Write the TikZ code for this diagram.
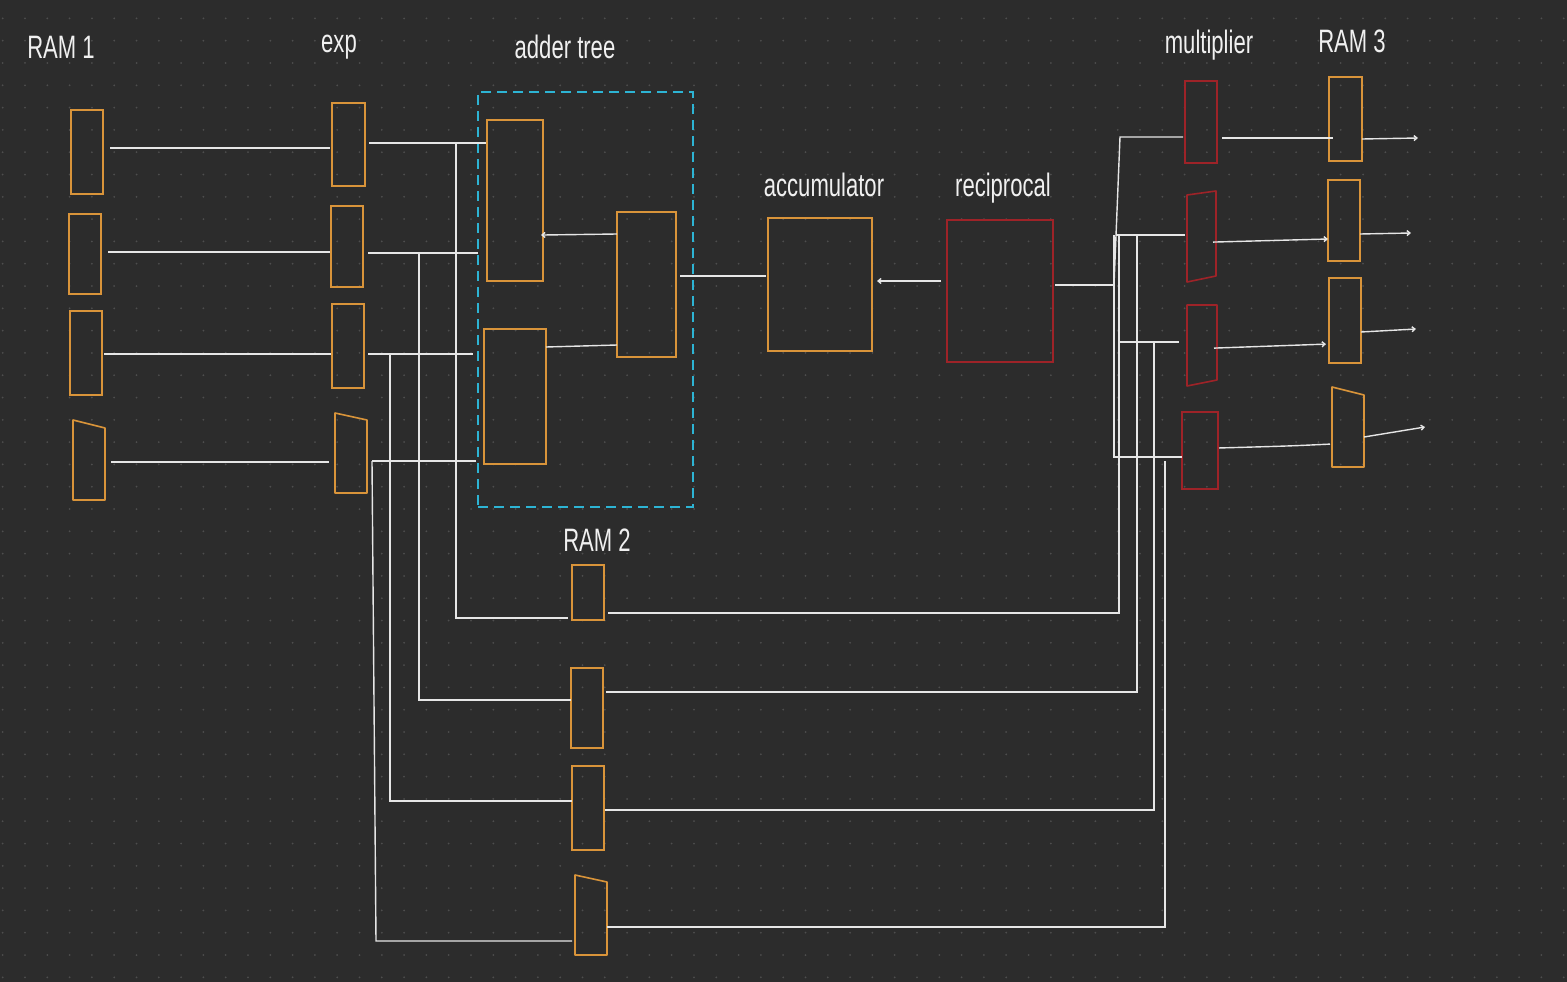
\documentclass[tikz,border=0pt]{standalone}
\usepackage{fontspec}
\setmainfont{Liberation Sans}
\usetikzlibrary{arrows.meta}
\definecolor{bg}{HTML}{2C2C2C}
\definecolor{dotc}{HTML}{4E4E4E}
\definecolor{orng}{HTML}{D9943A}
\definecolor{redc}{HTML}{9E2328}
\definecolor{cyanc}{HTML}{2DB4D4}
\definecolor{wirec}{HTML}{E6E6E6}
\newcommand{\hw}[1]{\scalebox{0.92}[1.35]{#1}}
\begin{document}
\begin{tikzpicture}[x=1pt,y=-1pt,
 obox/.style={draw=orng, line width=1.6pt, inner sep=0pt, outer sep=0pt, anchor=north west},
 rbox/.style={obox, draw=redc},
 ghost/.style={inner sep=0pt, outer sep=0pt, anchor=north west},
 opath/.style={draw=orng, line width=1.6pt, line join=round},
 rpath/.style={draw=redc, line width=1.6pt, line join=round},
 wire/.style={draw=wirec, line width=1.4pt},
 tip/.style={-{Straight Barb[length=3pt,width=5pt]}},
 lbl/.style={text=white!94!black, font=\fontsize{24}{28}\selectfont, inner sep=0pt},
 grp/.style={draw=cyanc, line width=2.4pt, dash pattern=on 10pt off 6pt, inner sep=0pt, outer sep=0pt, anchor=north west}]
% background and dot grid
\fill[bg] (0,0) rectangle (1567,982);
\useasboundingbox (0,0) rectangle (1567,982);
\foreach \i in {0,...,70}{\foreach \j in {0,...,43}{\fill[dotc] (2.7+22.3*\i, 18.4+22.3*\j) circle (1pt);}}

% labels
\node[lbl] (tR1) at (61,47) {\hw{RAM 1}};
\node[lbl] (tEx) at (339,47) {\hw{exp}};
\node[lbl] (tAd) at (565,47) {\hw{adder tree}};
\node[lbl] (tAc) at (824,185) {\hw{accumulator}};
\node[lbl] (tRe) at (1003,188) {\hw{reciprocal}};
\node[lbl] (tMu) at (1209,45) {\hw{multiplier}};
\node[lbl] (tR3) at (1352,41) {\hw{RAM 3}};
\node[lbl] (tR2) at (597,540) {\hw{RAM 2}};

% RAM 1
\node[obox, minimum width=32pt, minimum height=84pt] (R1a) at (71,110) {};
\node[obox, minimum width=32pt, minimum height=80pt] (R1b) at (69,214) {};
\node[obox, minimum width=32pt, minimum height=84pt] (R1c) at (70,311) {};
\node[ghost, minimum width=32pt, minimum height=80pt] (R1d) at (73,420) {};
\draw[opath] (R1d.south west) -- (R1d.north west) -- ([yshift=-8pt]R1d.north east) -- (R1d.south east) -- cycle;

% exp
\node[obox, minimum width=33pt, minimum height=83pt] (E1) at (332,103) {};
\node[obox, minimum width=32pt, minimum height=81pt] (E2) at (331,206) {};
\node[obox, minimum width=32pt, minimum height=84pt] (E3) at (332,304) {};
\node[ghost, minimum width=32pt, minimum height=80pt] (E4) at (335,413) {};
\draw[opath] (E4.south west) -- (E4.north west) -- ([yshift=-7pt]E4.north east) -- (E4.south east) -- cycle;

% adder tree
\node[grp, minimum width=215pt, minimum height=415pt] (grp) at (478,92) {};
\node[obox, minimum width=56pt, minimum height=161pt] (A1) at (487,120) {};
\node[obox, minimum width=62pt, minimum height=135pt] (A2) at (484,329) {};
\node[obox, minimum width=59pt, minimum height=145pt] (A3) at (617,212) {};

% accumulator, reciprocal
\node[obox, minimum width=104pt, minimum height=133pt] (ACC) at (768,218) {};
\node[rbox, minimum width=106pt, minimum height=142pt] (REC) at (947,220) {};

% RAM 2
\node[obox, minimum width=32pt, minimum height=55pt] (R2a) at (572,565) {};
\node[obox, minimum width=32pt, minimum height=80pt] (R2b) at (571,668) {};
\node[obox, minimum width=32pt, minimum height=84pt] (R2c) at (572,766) {};
\node[ghost, minimum width=32pt, minimum height=80pt] (R2d) at (575,875) {};
\draw[opath] (R2d.south west) -- (R2d.north west) -- ([yshift=-7pt]R2d.north east) -- (R2d.south east) -- cycle;

% multipliers
\node[rbox, minimum width=32pt, minimum height=82pt] (M1) at (1185,81) {};
\node[ghost, minimum width=29pt, minimum height=91pt] (M2) at (1187,191) {};
\draw[rpath] ([yshift=-4pt]M2.north west) -- (M2.north east) -- ([yshift=6pt]M2.south east) -- (M2.south west) -- cycle;
\node[ghost, minimum width=30pt, minimum height=81pt] (M3) at (1187,305) {};
\draw[rpath] (M3.north west) -- (M3.north east) -- ([yshift=6pt]M3.south east) -- (M3.south west) -- cycle;
\node[rbox, minimum width=36pt, minimum height=77pt] (M4) at (1182,412) {};

% RAM 3
\node[obox, minimum width=33pt, minimum height=84pt] (R3a) at (1329,77) {};
\node[obox, minimum width=32pt, minimum height=81pt] (R3b) at (1328,180) {};
\node[obox, minimum width=32pt, minimum height=85pt] (R3c) at (1329,278) {};
\node[ghost, minimum width=32pt, minimum height=80pt] (R3d) at (1332,387) {};
\draw[opath] (R3d.south west) -- (R3d.north west) -- ([yshift=-8pt]R3d.north east) -- (R3d.south east) -- cycle;

% ---- wires: RAM 1 -> exp
\draw[wire, shorten <=7pt, shorten >=2pt] (R1a.east |- 0,148) -- (E1.west |- 0,148);
\draw[wire, shorten <=7pt, shorten >=1pt] (R1b.east |- 0,252) -- (E2.west |- 0,252);
\draw[wire, shorten <=2pt, shorten >=1pt] (R1c.east |- 0,354) -- (E3.west |- 0,354);
\draw[wire, shorten <=6pt, shorten >=6pt] (R1d.east |- 0,462) -- (E4.west |- 0,462);

% exp -> adder tree and RAM 2
\draw[wire, shorten <=4pt, shorten >=1pt] (E1.east |- 0,143) -- (A1.west |- 0,143);
\coordinate (j1) at (456,143);
\draw[wire, shorten >=4pt] (j1) |- (R2a.west |- 0,618);
\draw[wire, shorten <=5pt] (E2.east |- 0,253) -- (grp.west |- 0,253);
\coordinate (j2) at (419,253);
\draw[wire] (j2) |- (R2b.west |- 0,700);
\draw[wire, shorten <=4pt, shorten >=5pt] (E3.east |- 0,354) -- (grp.west |- 0,354);
\coordinate (j3) at (390,354);
\draw[wire] (j3) |- (R2c.west |- 0,801);
\coordinate (j4) at (372,461);
\coordinate (j4b) at (376,941);
\draw[wire, shorten >=2pt] (j4) -- (grp.west |- 0,461);
\draw[wire, shorten >=3pt] (j4) -- (j4b) -- (R2d.west |- 0,941);

% inside adder tree
\draw[wire, tip, shorten >=-2pt] (A3.west |- 0,234) -- (A1.east |- 0,235);
\draw[wire] (A2.east |- 0,347) -- (A3.west |- 0,345);
\draw[wire, shorten <=4pt, shorten >=2pt] (A3.east |- 0,276) -- (ACC.west |- 0,276);

% reciprocal
\draw[wire, tip, shorten <=6pt, shorten >=5pt] (REC.west |- 0,281) -- (ACC.east |- 0,281);
\coordinate (jr) at (1114,285);
\draw[wire, shorten <=2pt] (REC.east |- 0,285) -- (jr);
\draw[wire, shorten >=2pt] (jr) -- (1120,137) -- (M1.west |- 0,137);
\draw[wire] (1114,235) -- (1114,457) -- (M4.west |- 0,457);
\draw[wire, shorten >=2pt] (1116,235) -- (M2.west |- 0,235);
\draw[wire, shorten >=8pt] (1120,342) -- (M3.west |- 0,342);

% RAM 2 -> multipliers
\draw[wire, shorten <=4pt] (R2a.east |- 0,613) -| (1119,235);
\draw[wire, shorten <=3pt] (R2b.east |- 0,692) -| (1137,236);
\draw[wire, shorten <=1pt] (R2c.east |- 0,810) -| (1154,342);
\draw[wire] (R2d.east |- 0,927) -| (1165,461);

% multipliers -> RAM 3
\draw[wire, shorten <=5pt, shorten >=-4pt] (M1.east |- 0,138) -- (R3a.west |- 0,138);
\draw[wire, tip, shorten <=-3pt] (M2.east |- 0,242) -- (R3b.west |- 0,239);
\draw[wire, tip, shorten <=-3pt, shorten >=3pt] (M3.east |- 0,348) -- (R3c.west |- 0,344);
\draw[wire, shorten <=1pt, shorten >=2pt] (M4.east |- 0,448) .. controls (1290,446) .. (R3d.west |- 0,444);

% RAM 3 outputs
\coordinate (o1) at (1418,138);
\coordinate (o2) at (1411,233);
\coordinate (o3) at (1416,329);
\coordinate (o4) at (1425,427);
\draw[wire, tip] (R3a.east |- 0,139) -- (o1);
\draw[wire, tip] (R3b.east |- 0,234) -- (o2);
\draw[wire, tip] (R3c.east |- 0,332) -- (o3);
\draw[wire, tip] ([yshift=-4pt]R3d.east |- 0,433) -- (o4);
\end{tikzpicture}
\end{document}
